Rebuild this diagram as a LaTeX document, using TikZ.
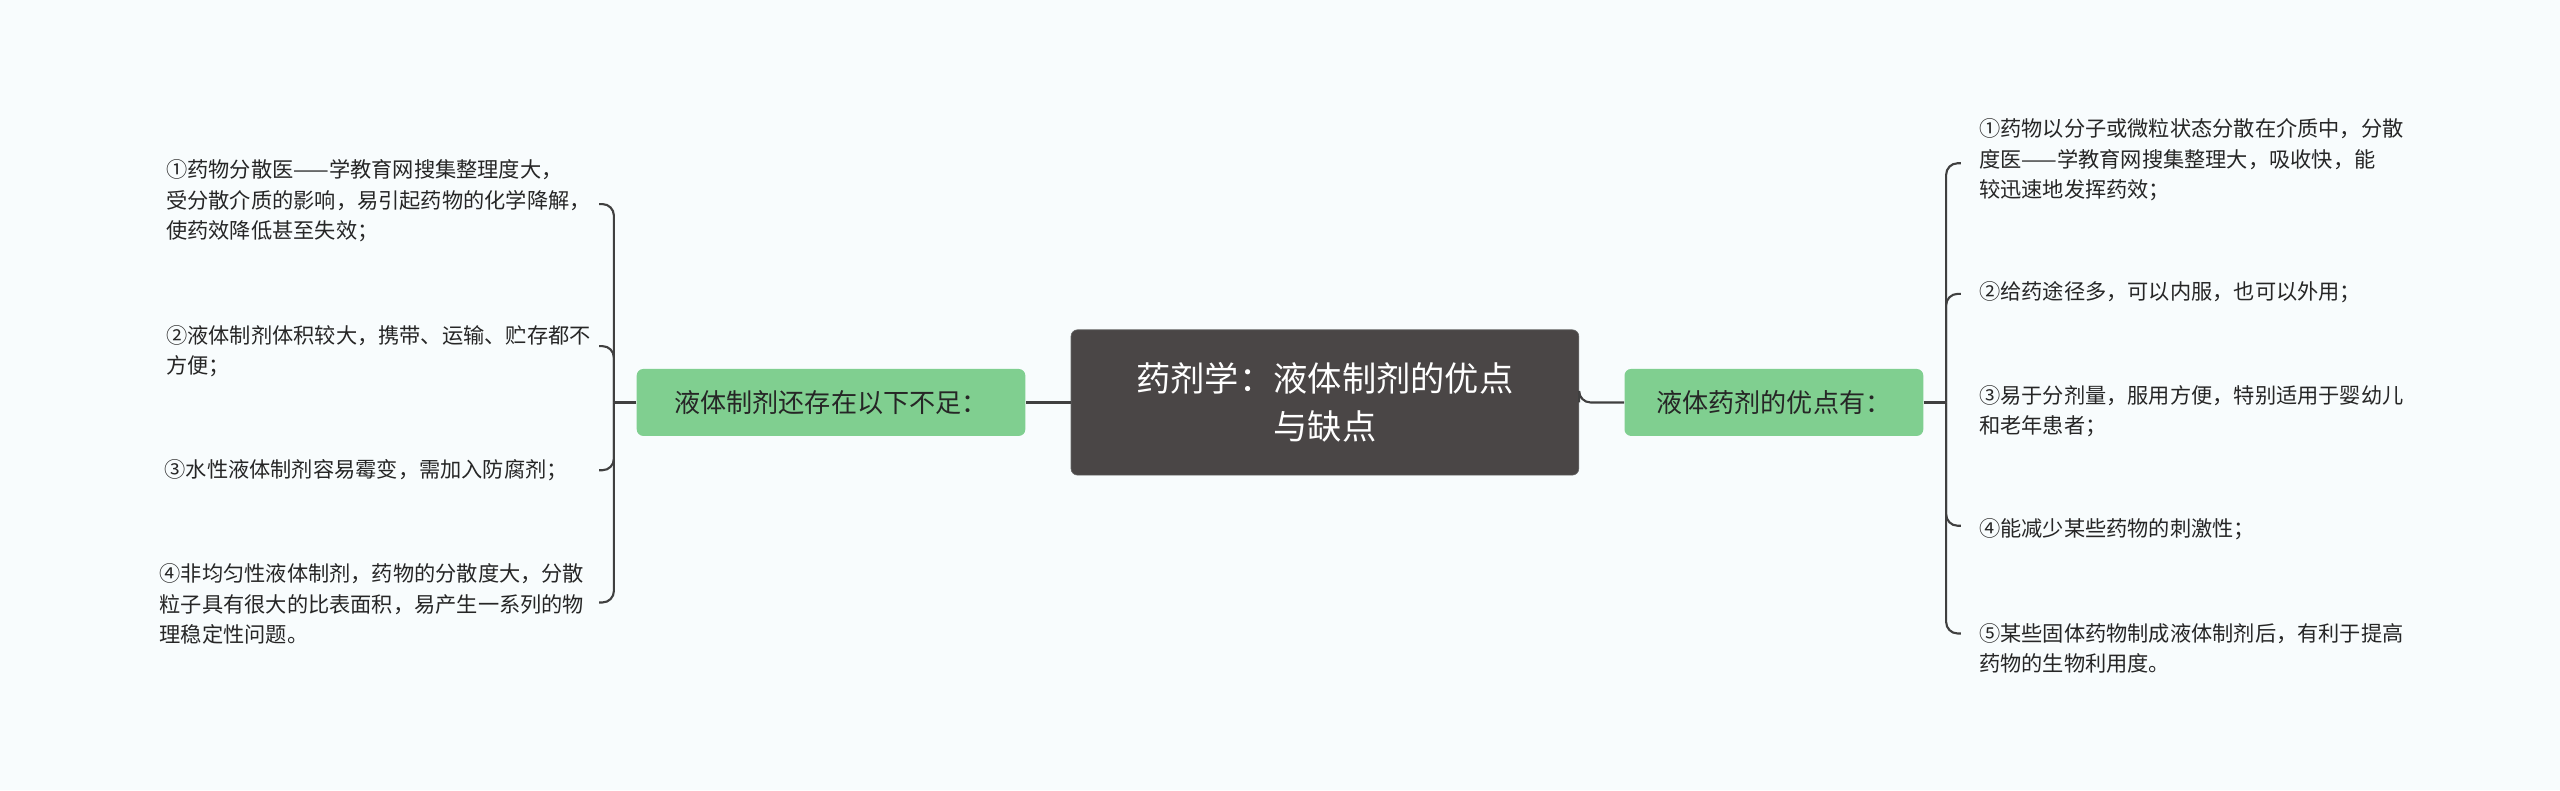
\documentclass[tikz,border=0pt]{standalone}
\usepackage{fontspec}
\setmainfont{Noto Sans CJK SC}
\begin{document}
\begin{tikzpicture}[x=1pt,y=-1pt,
  leaf/.style={inner sep=0pt,align=left,font=\fontsize{13}{18.6}\selectfont,text=black!85},
  conn/.style={draw=black!75,line width=1.3pt,rounded corners=7pt},
  mid/.style={fill=green!50!teal!40!white,rounded corners=4pt,font=\fontsize{16}{20}\selectfont,text=black!85,minimum height=41pt,inner xsep=8pt}]
\definecolor{bg}{HTML}{F8FCFD}
\definecolor{midg}{HTML}{80CF90}
\definecolor{cdark}{HTML}{4A4646}
\fill[bg] (0,0) rectangle (1568,484);
\useasboundingbox (0,0) rectangle (1568,484);
\node[fill=cdark,draw=black!60,rounded corners=4pt,text=white,align=center,font=\fontsize{21}{29}\selectfont,minimum width=311pt,minimum height=89pt] (c) at (811.5,246.5) {药剂学：液体制剂的优点\\与缺点};
\node[mid,fill=midg,minimum width=238pt] (L) at (509,246.5) {液体制剂还存在以下不足：};
\node[mid,fill=midg,minimum width=183pt] (R) at (1086.5,246.5) {液体药剂的优点有：};
\draw[conn] (c.west) -- (L.east);
\draw[conn] (c.east) -- (R.east -| c.east) -- (R.west);
% left leaves
\node[leaf,anchor=east] (l1) at (362,123) {①药物分散医——学教育网搜集整理度大，\\受分散介质的影响，易引起药物的化学降解，\\使药效降低甚至失效；};
\node[leaf,anchor=east] (l2) at (362,215) {②液体制剂体积较大，携带、运输、贮存都不\\方便；};
\node[leaf,anchor=east] (l3) at (348,288) {③水性液体制剂容易霉变，需加入防腐剂；};
\node[leaf,anchor=east] (l4) at (358,370) {④非均匀性液体制剂，药物的分散度大，分散\\粒子具有很大的比表面积，易产生一系列的物\\理稳定性问题。};
\coordinate (lb) at (376,246.5);
\draw[conn] (L.west) -- (lb);
\draw[conn] (lb) |- (367,125);
\draw[conn] (lb) |- (367,212);
\draw[conn] (lb) |- (367,288);
\draw[conn] (lb) |- (367,369);
% right leaves
\node[leaf,anchor=west] (r1) at (1212,98) {①药物以分子或微粒状态分散在介质中，分散\\度医——学教育网搜集整理大，吸收快，能\\较迅速地发挥药效；};
\node[leaf,anchor=west] (r2) at (1212,179) {②给药途径多，可以内服，也可以外用；};
\node[leaf,anchor=west] (r3) at (1212,252) {③易于分剂量，服用方便，特别适用于婴幼儿\\和老年患者；};
\node[leaf,anchor=west] (r4) at (1212,324) {④能减少某些药物的刺激性；};
\node[leaf,anchor=west] (r5) at (1212,397) {⑤某些固体药物制成液体制剂后，有利于提高\\药物的生物利用度。};
\coordinate (rb) at (1192,246.5);
\draw[conn] (R.east) -- (rb);
\draw[conn] (rb) |- (1201,100);
\draw[conn] (rb) |- (1201,180);
\draw[conn] (rb) -- (1192,246.5);
\draw[conn] (rb) |- (1201,322);
\draw[conn] (rb) |- (1201,388);
\end{tikzpicture}
\end{document}
